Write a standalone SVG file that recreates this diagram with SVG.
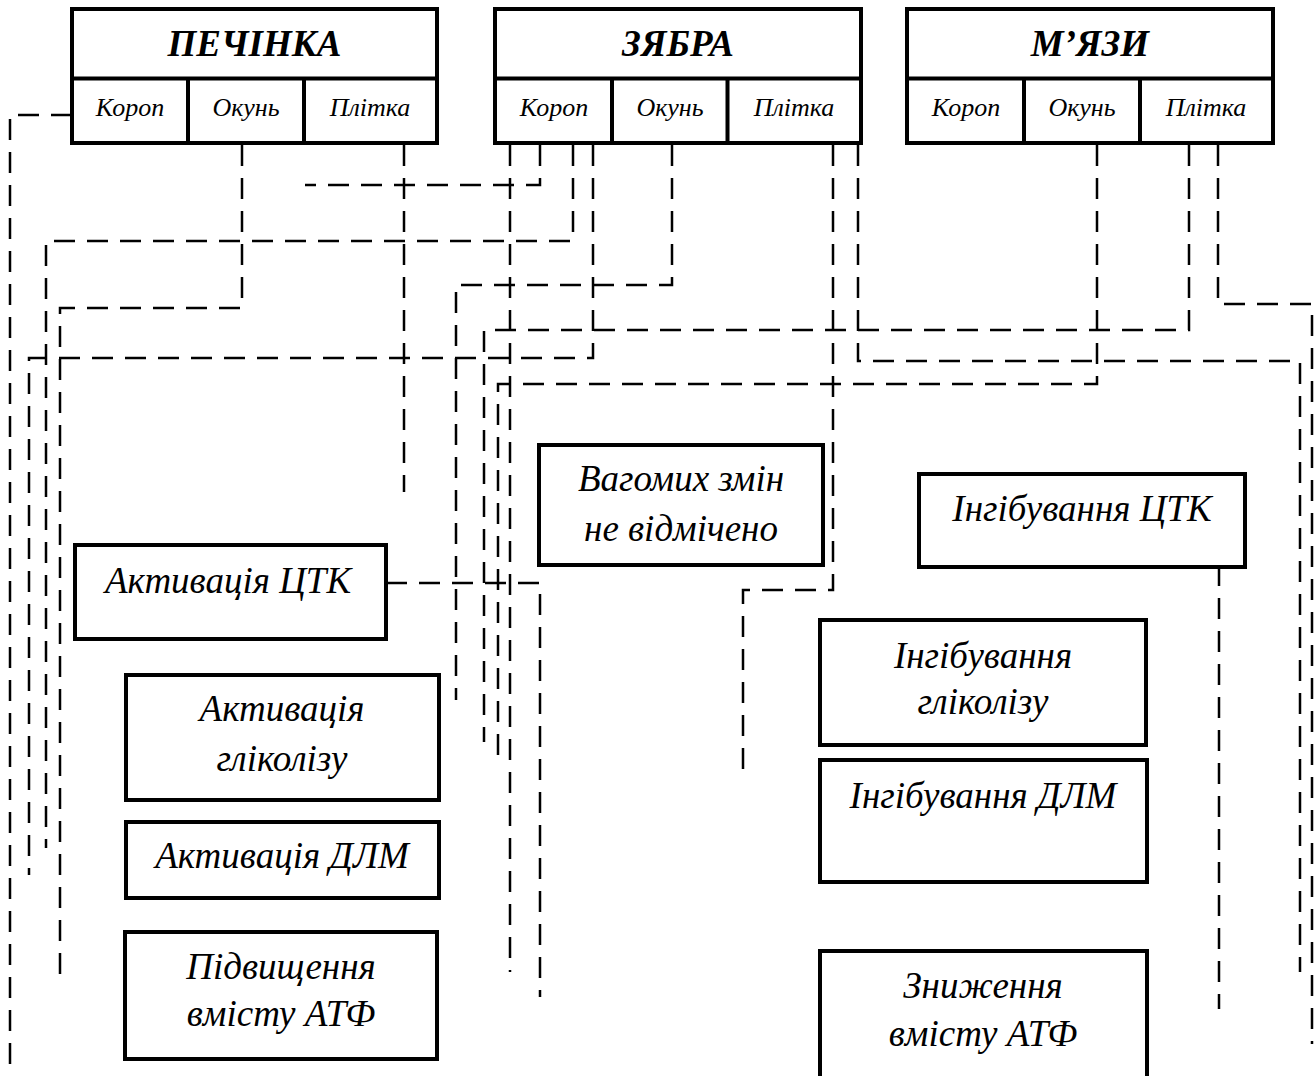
<svg xmlns="http://www.w3.org/2000/svg" width="1314" height="1076" viewBox="0 0 1314 1076">
<style>
.box{fill:#fff;stroke:#000;stroke-width:4}
.div{stroke:#000;stroke-width:4;fill:none}
.title{font-family:"Liberation Serif","Times New Roman",serif;font-weight:bold;font-style:italic;font-size:37px;text-anchor:middle;fill:#000}
.sub{font-family:"Liberation Serif","Times New Roman",serif;font-style:italic;font-size:26px;text-anchor:middle;fill:#000}
.lbl{font-family:"Liberation Serif","Times New Roman",serif;font-style:italic;font-size:37px;text-anchor:middle;fill:#000}
.con{fill:none;stroke:#000;stroke-width:2.5;stroke-dasharray:21 12}
</style>
<rect width="1314" height="1076" fill="#fff"/>
<g id="connectors">
<path class="con" d="M72,115 H10 V1076"/>
<path class="con" d="M242,145 V308 H60 V983"/>
<path class="con" d="M404,145 V492"/>
<path class="con" d="M540,145 V185 H305"/>
<path class="con" d="M573,145 V241 H46 V848"/>
<path class="con" d="M593,145 V358 H29 V875"/>
<path class="con" d="M510,145 V972"/>
<path class="con" d="M672,145 V285 H456 V700"/>
<path class="con" d="M1189,145 V330 H484 V742"/>
<path class="con" d="M1097,145 V384 H498 V767"/>
<path class="con" d="M833,145 V590 H743 V775"/>
<path class="con" d="M858,145 V361 H1300 V972"/>
<path class="con" d="M1218,145 V304 H1312 V1044"/>
<path class="con" d="M386,583 H540 V997"/>
<path class="con" d="M1219,565 V1009"/>
</g>
<g id="liver">
<rect class="box" x="72" y="9" width="365" height="134"/>
<path class="div" d="M72,78.5 H437 M188,78.5 V143 M304,78.5 V143"/>
<text class="title" x="254.5" y="56">ПЕЧІНКА</text>
<text class="sub" x="130" y="116">Короп</text>
<text class="sub" x="246" y="116">Окунь</text>
<text class="sub" x="370" y="116">Плітка</text>
</g>
<g id="gills">
<rect class="box" x="495" y="9" width="366" height="134"/>
<path class="div" d="M495,78.5 H861 M612,78.5 V143 M727.5,78.5 V143"/>
<text class="title" x="678" y="56">ЗЯБРА</text>
<text class="sub" x="554" y="116">Короп</text>
<text class="sub" x="670" y="116">Окунь</text>
<text class="sub" x="794" y="116">Плітка</text>
</g>
<g id="muscles">
<rect class="box" x="907" y="9" width="366" height="134"/>
<path class="div" d="M907,78.5 H1273 M1024,78.5 V143 M1140,78.5 V143"/>
<text class="title" x="1090" y="56">М’ЯЗИ</text>
<text class="sub" x="966" y="116">Короп</text>
<text class="sub" x="1082" y="116">Окунь</text>
<text class="sub" x="1206" y="116">Плітка</text>
</g>
<g id="act-ctk">
<rect class="box" x="75" y="545" width="311" height="94"/>
<text class="lbl" x="228" y="593">Активація ЦТК</text>
</g>
<g id="act-glyc">
<rect class="box" x="126" y="675" width="313" height="125"/>
<text class="lbl" x="282" y="721">Активація</text>
<text class="lbl" x="282" y="771">гліколізу</text>
</g>
<g id="act-dlm">
<rect class="box" x="126" y="822" width="313" height="76"/>
<text class="lbl" x="282" y="868">Активація ДЛМ</text>
</g>
<g id="atp-up">
<rect class="box" x="125" y="932" width="312" height="127"/>
<text class="lbl" x="281" y="979">Підвищення</text>
<text class="lbl" x="281" y="1026">вмісту АТФ</text>
</g>
<g id="no-change">
<rect class="box" x="539" y="445" width="284" height="120"/>
<text class="lbl" x="681" y="491">Вагомих змін</text>
<text class="lbl" x="681" y="541">не відмічено</text>
</g>
<g id="inh-ctk">
<rect class="box" x="919" y="474" width="326" height="93"/>
<text class="lbl" x="1082" y="521">Інгібування ЦТК</text>
</g>
<g id="inh-glyc">
<rect class="box" x="820" y="620" width="326" height="125"/>
<text class="lbl" x="983" y="668">Інгібування</text>
<text class="lbl" x="983" y="714">гліколізу</text>
</g>
<g id="inh-dlm">
<rect class="box" x="820" y="760" width="327" height="122"/>
<text class="lbl" x="983" y="808">Інгібування ДЛМ</text>
</g>
<g id="atp-down">
<rect class="box" x="820" y="951" width="327" height="140"/>
<text class="lbl" x="983" y="998">Зниження</text>
<text class="lbl" x="983" y="1046">вмісту АТФ</text>
</g>
</svg>
